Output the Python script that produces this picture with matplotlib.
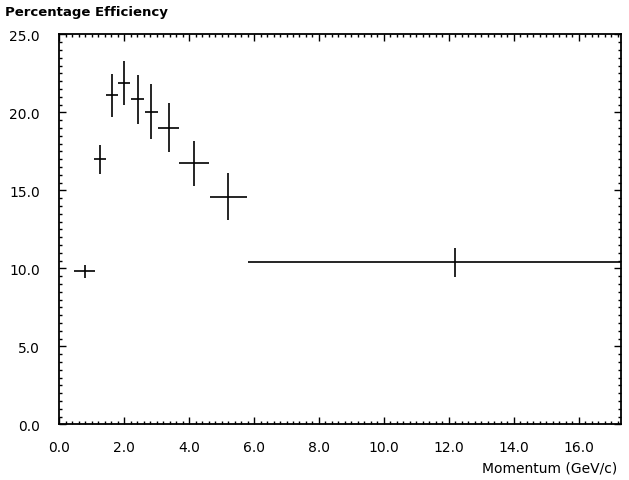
import matplotlib.pyplot as plt
from matplotlib.ticker import MultipleLocator

plt.rc('font', size=10)

# Data
momentum = [0.78, 1.25, 1.62, 2.0, 2.41, 2.83, 3.37, 4.14, 5.21, 12.2]
mom_err = [0.33, 0.18, 0.18, 0.19, 0.2, 0.2, 0.32, 0.46, 0.58, 6.4]
efficiency = [9.8, 16.98, 21.08, 21.88, 20.84, 20.05, 19.02, 16.72, 14.6, 10.38]
eff_err = [0.4, 0.94, 1.35, 1.42, 1.58, 1.75, 1.56, 1.46, 1.49, 0.92]

fig = plt.figure(figsize=(6.29, 4.81), dpi=100)
ax = fig.add_axes([0.0943, 0.1158, 0.8927, 0.8108])

ax.errorbar(momentum, efficiency, xerr=mom_err, yerr=eff_err,
            fmt='none', ecolor='black', elinewidth=1.2, capsize=0)

ax.set_xlim(0, 17.3)
ax.set_ylim(0, 25)
ax.xaxis.set_major_locator(MultipleLocator(2))
ax.xaxis.set_minor_locator(MultipleLocator(0.2))
ax.yaxis.set_major_locator(MultipleLocator(5))
ax.yaxis.set_minor_locator(MultipleLocator(0.5))
ax.xaxis.set_major_formatter(lambda v, p: f'{v:.1f}')
ax.yaxis.set_major_formatter(lambda v, p: f'{v:.1f}')

ax.tick_params(which='both', direction='in', top=True, right=True, width=1)
ax.tick_params(which='major', length=5)
ax.tick_params(which='minor', length=2.5)
ax.tick_params(axis='y', pad=14)
ax.tick_params(axis='x', pad=11)
for s in ax.spines.values():
    s.set_linewidth(1.3)

fig.text(0.008, 0.975, 'Percentage Efficiency', fontsize=9.5, fontweight='bold',
         va='center', ha='left')
fig.text(0.981, 0.025, 'Momentum (GeV/c)', fontsize=10,
         va='center', ha='right')

fig.savefig('out.png', dpi=100)
